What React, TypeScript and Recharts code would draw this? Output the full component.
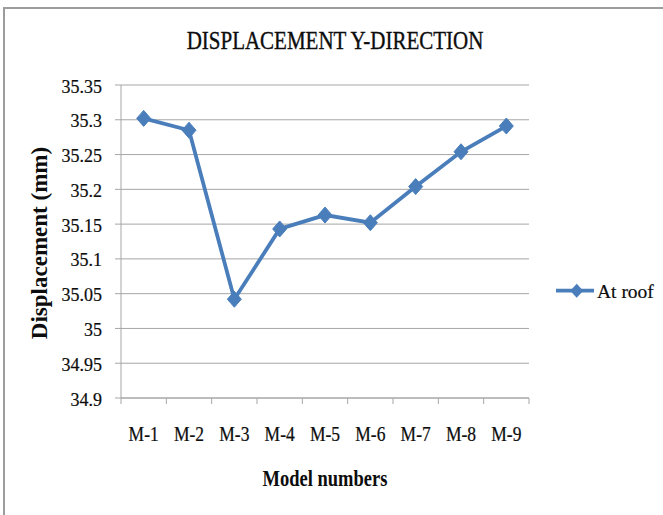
import React from 'react';
import { LineChart, Line, XAxis, YAxis, CartesianGrid } from 'recharts';

const categories = ['M-1', 'M-2', 'M-3', 'M-4', 'M-5', 'M-6', 'M-7', 'M-8', 'M-9'];
const roofDisplacement = [35.302, 35.285, 35.042, 35.143, 35.163, 35.152, 35.204, 35.254, 35.291];
const yTicks = [34.9, 34.95, 35, 35.05, 35.1, 35.15, 35.2, 35.25, 35.3, 35.35];
const seriesName = 'At roof';
const chartTitle = 'DISPLACEMENT Y-DIRECTION';
const xTitle = 'Model numbers';
const yTitle = 'Displacement (mm)';

// each category occupies one unit on the x axis; its point sits at the centre of that unit
const data = categories.map((model, i) => ({ model, pos: i + 0.5, roof: roofDisplacement[i] }));
// boundaries (integers) get tick marks, centres (halves) get the category labels
const frameTicks = categories.flatMap((_, i) => (i === 0 ? [0, 0.5, 1] : [i + 0.5, i + 1]));

const FONT = '"Liberation Serif", "Times New Roman", serif';
const BLUE = '#4a7ebb';
const GRID = '#a6a6a6';
const INK = '#0d0d0d';

const FrameTick = (props: any) => {
  const { x, y, payload } = props;
  const v = payload.value;
  if (Number.isInteger(v)) {
    return <line x1={x} y1={y} x2={x} y2={y + 6} stroke={GRID} strokeWidth={1} />;
  }
  const label = categories[Math.floor(v)];
  return (
    <text
      transform={`translate(${x},${y + 42.5}) scale(1,1.15)`}
      textAnchor="middle"
      fontFamily={FONT}
      fontSize={17.5}
      fill={INK}
      stroke={INK}
      strokeWidth={0.2}
    >
      {label}
    </text>
  );
};

const YTick = (props: any) => {
  const { x, y, payload } = props;
  return (
    <text x={x} y={y + 7.5} textAnchor="end" fontFamily={FONT} fontSize={18} fill={INK} stroke={INK} strokeWidth={0.2}>
      {String(payload.value)}
    </text>
  );
};

const Diamond = (props: any) => {
  const { cx, cy, index } = props;
  if (cx == null || cy == null) return <g key={`d${index}`} />;
  const w = 7;
  const h = 8;
  return (
    <path
      key={`d${index}`}
      d={`M${cx},${cy - h}L${cx + w},${cy}L${cx},${cy + h}L${cx - w},${cy}Z`}
      fill={BLUE}
      stroke={BLUE}
      strokeWidth={1}
    />
  );
};

export default function App() {
  return (
    <div style={{ position: 'absolute', left: 0, top: 0, width: 663, height: 515, background: '#fff', overflow: 'hidden' }}>
      <div
        style={{
          position: 'absolute',
          left: 3,
          top: 7,
          width: 700,
          height: 600,
          borderLeft: '2px solid #9c9c9c',
          borderTop: '2px solid #9c9c9c',
        }}
      />
      <div style={{ position: 'absolute', left: 0, top: 0 }}>
        <LineChart width={663} height={515} data={data} margin={{ top: 85, right: 134, bottom: 0, left: 0 }}>
          <CartesianGrid vertical={false} stroke={GRID} xAxisId="frame" />
          <XAxis
            xAxisId="frame"
            dataKey="pos"
            type="number"
            domain={[0, categories.length]}
            allowDataOverflow
            ticks={frameTicks}
            interval={0}
            allowDecimals
            height={117}
            tickLine={false}
            tickSize={0}
            tickMargin={0}
            axisLine={{ stroke: GRID }}
            tick={<FrameTick />}
          />
          <YAxis
            domain={[34.9, 35.35]}
            ticks={yTicks}
            interval={0}
            width={121}
            tickSize={6}
            tickMargin={13}
            axisLine={{ stroke: GRID }}
            tickLine={{ stroke: GRID }}
            tick={<YTick />}
            allowDataOverflow
          />
          <Line
            xAxisId="frame"
            type="linear"
            dataKey="roof"
            name={seriesName}
            stroke={BLUE}
            strokeWidth={3.8}
            dot={Diamond}
            activeDot={false}
            isAnimationActive={false}
          />
        </LineChart>
      </div>
      <svg width={663} height={515} style={{ position: 'absolute', left: 0, top: 0, pointerEvents: 'none' }}>
        <text
          transform="translate(335,48.5) scale(1,1.22)"
          textAnchor="middle"
          fontFamily={FONT}
          fontSize={21}
          fill={INK}
          stroke={INK}
          strokeWidth={0.3}
        >
          {chartTitle}
        </text>
        <text
          transform="translate(46.5,243) rotate(-90)"
          textAnchor="middle"
          fontFamily={FONT}
          fontWeight="bold"
          fontSize={23}
          fill={INK}
        >
          {yTitle}
        </text>
        <text
          transform="translate(325,486) scale(1,1.3)"
          textAnchor="middle"
          fontFamily={FONT}
          fontWeight="bold"
          fontSize={18.5}
          fill={INK}
        >
          {xTitle}
        </text>
        <g>
          <line x1={556} y1={290.7} x2={594} y2={290.7} stroke={BLUE} strokeWidth={3.8} />
          <path d="M576.7,283.7L583.2,290.7L576.7,297.7L570.2,290.7Z" fill={BLUE} />
          <text x={597} y={298} fontFamily={FONT} fontSize={19.5} fill={INK} stroke={INK} strokeWidth={0.2}>
            {seriesName}
          </text>
        </g>
      </svg>
    </div>
  );
}
